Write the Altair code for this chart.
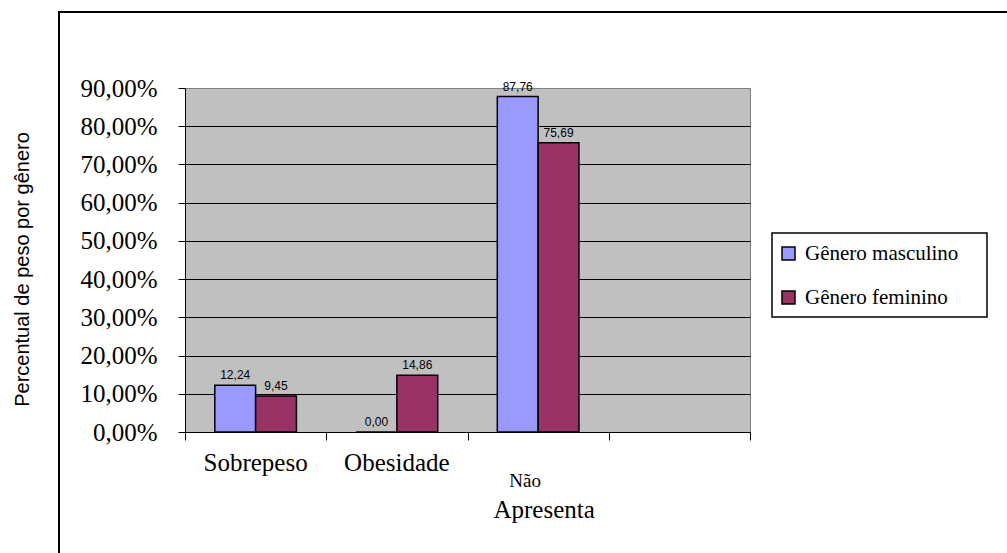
import altair as alt
import pandas as pd

# Weight classification by gender (percent of each group)
categorias = ["Sobrepeso", "Obesidade", "Não Apresenta"]
masculino = [12.24, 0.00, 87.76]
feminino = [9.45, 14.86, 75.69]
generos = ["Gênero masculino", "Gênero feminino"]
cores = ["#9999FF", "#993366"]
marcas_y = [0, 10, 20, 30, 40, 50, 60, 70, 80, 90]

# a fourth, empty slot on the category axis
dominio_x = categorias + [""]

linhas = []
for i, cat in enumerate(categorias):
    linhas.append({"categoria": cat, "genero": generos[0], "valor": masculino[i]})
    linhas.append({"categoria": cat, "genero": generos[1], "valor": feminino[i]})
df = pd.DataFrame(linhas)
df_cat = pd.DataFrame({"categoria": categorias})

SERIF = "Liberation Serif"
SANS = "Liberation Sans"

x_enc = alt.X(
    "categoria:N",
    sort=dominio_x,
    scale=alt.Scale(domain=dominio_x, paddingInner=0, paddingOuter=0),
    axis=alt.Axis(
        title=None, labels=False, grid=False, ticks=True, tickBand="extent",
        tickSize=8, tickColor="black", domainColor="black", domainWidth=1,
    ),
)
xoff = alt.XOffset(
    "genero:N", sort=generos,
    scale=alt.Scale(domain=generos, paddingInner=0, paddingOuter=0.73),
)
y_enc = alt.Y(
    "valor:Q",
    scale=alt.Scale(domain=[0, 90], nice=False, zero=True),
    axis=alt.Axis(
        values=marcas_y, tickCount=10,
        labelExpr="replace(format(datum.value, '.2f'), '.', ',') + '%'",
        labelFont=SERIF, labelFontSize=25, labelColor="black", labelPadding=21,
        labelOverlap=False, labelFlush=False,
        tickSize=7, tickColor="black", domainColor="black",
        grid=True,
        gridColor={"condition": {"test": "datum.value === 90", "value": "#808080"}, "value": "black"},
        gridWidth=1,
        title="Percentual de peso por gênero",
        titleFont=SANS, titleFontSize=20, titleFontWeight="normal", titleColor="black",
        titleAngle=270, titleX=-163, titleY=181, titleAlign="center", titleBaseline="middle",
    ),
)

cor = alt.Color(
    "genero:N", sort=generos,
    scale=alt.Scale(domain=generos, range=cores),
    legend=alt.Legend(
        title=None, orient="none", legendX=587, legendY=145,
        padding=10, strokeColor="transparent", fillColor="transparent",
        symbolType="square", symbolSize=169, symbolStrokeColor="black",
        symbolStrokeWidth=1.5, symbolOpacity=1, symbolOffset=-4,
        labelFont=SERIF, labelFontSize=21, labelColor="black",
        rowPadding=22, labelOffset=6,
    ),
)

# outer chart frame (runs off the right and bottom edges)
moldura = alt.Chart(pd.DataFrame({"k": [0]})).mark_rect(
    filled=False, stroke="black", strokeWidth=2
).encode(
    x=alt.value(-126), x2=alt.value(900), y=alt.value(-76), y2=alt.value(500)
)

# box behind the legend entries
caixa_legenda = alt.Chart(pd.DataFrame({"k": [0]})).mark_rect(
    fill="white", stroke="black", strokeWidth=1.5
).encode(
    x=alt.value(587), x2=alt.value(802), y=alt.value(145), y2=alt.value(229)
)

barras = alt.Chart(df).mark_bar(stroke="black", strokeWidth=1.5).encode(
    x=x_enc, xOffset=xoff, y=y_enc, color=cor
)

rotulos = alt.Chart(df).transform_calculate(
    rotulo="replace(format(datum.valor, '.2f'), '.', ',')"
).mark_text(font=SANS, fontSize=12, baseline="bottom", dy=-3, color="black").encode(
    x=x_enc, xOffset=xoff, y=y_enc, text="rotulo:N"
)

nomes = alt.Chart(df_cat).transform_filter(
    "datum.categoria != 'Não Apresenta'"
).mark_text(font=SERIF, fontSize=25, baseline="middle", color="black").encode(
    x=x_enc, y=alt.value(375), text="categoria:N"
)

nao = alt.Chart(df_cat).transform_filter(
    "datum.categoria == 'Não Apresenta'"
).transform_calculate(
    parte="split(datum.categoria, ' ')[0]"
).mark_text(font=SERIF, fontSize=19, baseline="middle", dx=-13, color="black").encode(
    x=x_enc, y=alt.value(393), text="parte:N"
)

apresenta = alt.Chart(df_cat).transform_filter(
    "datum.categoria == 'Não Apresenta'"
).transform_calculate(
    parte="split(datum.categoria, ' ')[1]"
).mark_text(font=SERIF, fontSize=25, baseline="middle", dx=6, color="black").encode(
    x=x_enc, y=alt.value(422), text="parte:N"
)

chart = alt.layer(moldura, caixa_legenda, barras, rotulos, nomes, nao, apresenta).properties(
    width=565, height=344,
    autosize=alt.AutoSizeParams(type="none"),
    padding={"left": 185, "top": 88, "right": 257, "bottom": 121},
    background="white",
).configure_view(
    fill="#C0C0C0", stroke="#808080", strokeWidth=1
)

chart.save("out.html", embed_options={"renderer": "svg", "actions": False})
